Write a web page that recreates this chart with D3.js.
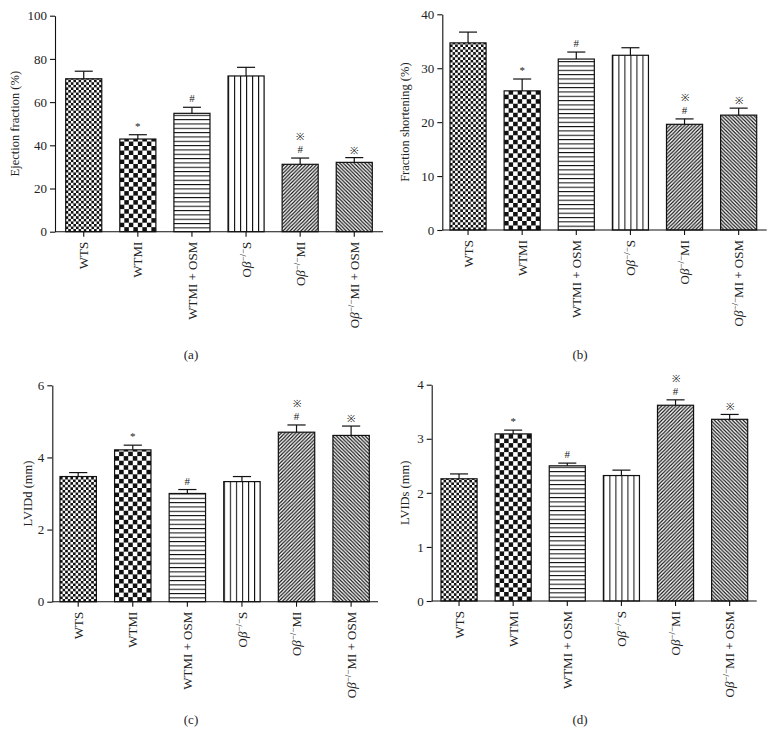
<!DOCTYPE html>
<html>
<head>
<meta charset="utf-8">
<script src="https://cdn.jsdelivr.net/npm/d3@7"></script>
<style>
html,body{margin:0;padding:0;background:#fff;}
svg{display:block;}
text{font-family:"Liberation Serif","Times New Roman",serif;fill:#222;}
</style>
</head>
<body>
<svg id="chart" width="774" height="738"></svg>
<script>
// ---------- DATA ----------
const categories = ["WTS", "WTMI", "WTMI + OSM", "Oβ−/−S", "Oβ−/−MI", "Oβ−/−MI + OSM"];

const efMean = [70.8, 42.9, 54.8, 72.1, 31.2, 32.1];
const efErr  = [3.5, 2.0, 2.8, 4.0, 2.9, 2.2];
const fsMean = [34.7, 25.8, 31.7, 32.4, 19.6, 21.3];
const fsErr  = [2.0, 2.2, 1.3, 1.4, 1.0, 1.3];
const lviddMean = [3.47, 4.21, 3.00, 3.33, 4.70, 4.61];
const lviddErr  = [0.11, 0.13, 0.11, 0.14, 0.20, 0.26];
const lvidsMean = [2.26, 3.09, 2.50, 2.32, 3.62, 3.36];
const lvidsErr  = [0.09, 0.07, 0.05, 0.10, 0.10, 0.09];

// significance marks, listed bottom to top
const efMarks    = [[], ["*"], ["#"], [], ["#", "※"], ["※"]];
const fsMarks    = [[], ["*"], ["#"], [], ["#", "※"], ["※"]];
const lviddMarks = [[], ["*"], ["#"], [], ["#", "※"], ["※"]];
const lvidsMarks = [[], ["*"], ["#"], [], ["#", "※"], ["※"]];

const efTicks    = [0, 20, 40, 60, 80, 100];
const fsTicks    = [0, 10, 20, 30, 40];
const lviddTicks = [0, 2, 4, 6];
const lvidsTicks = [0, 1, 2, 3, 4];

const yTitles  = ["Ejection fraction (%)", "Fraction shortening (%)", "LVIDd (mm)", "LVIDs (mm)"];
const captions = ["(a)", "(b)", "(c)", "(d)"];
const patternKinds = ["fineCheck", "coarseCheck", "hLines", "vLines", "diagUp", "diagDown"];

// ---------- LAYOUT ----------
const layout = [
  {x0: 55,    x1: 383,   yb: 231.7, yt: 15.7,  b0: 65.7,  b1: 372.3, titleX: 15,  capX: 191, capY: 354},
  {x0: 442.3, x1: 766.7, yb: 230,   yt: 14.3,  b0: 450,   b1: 756.7, titleX: 405, capX: 580, capY: 354},
  {x0: 52.3,  x1: 378,   yb: 601.7, yt: 385.3, b0: 60,    b1: 369.3, titleX: 28,  capX: 191, capY: 719},
  {x0: 431.7, x1: 756.7, yb: 601,   yt: 384.7, b0: 441,   b1: 747.7, titleX: 405, capX: 580, capY: 719}
];

const panels = [
  {mean: efMean, err: efErr, marks: efMarks, ticks: efTicks},
  {mean: fsMean, err: fsErr, marks: fsMarks, ticks: fsTicks},
  {mean: lviddMean, err: lviddErr, marks: lviddMarks, ticks: lviddTicks},
  {mean: lvidsMean, err: lvidsErr, marks: lvidsMarks, ticks: lvidsTicks}
];

const svg = d3.select("#chart");
svg.append("rect").attr("width", 774).attr("height", 738).attr("fill", "#fff");
const defs = svg.append("defs");
const INK = "#111";

function makePattern(id, kind, bx, bw, yb) {
  const p = defs.append("pattern").attr("id", id).attr("patternUnits", "userSpaceOnUse");
  if (kind === "fineCheck" || kind === "coarseCheck") {
    const s = kind === "fineCheck" ? bw / 14 : bw / 8;
    p.attr("x", bx).attr("y", yb).attr("width", 2 * s).attr("height", 2 * s);
    p.append("rect").attr("width", 2 * s).attr("height", 2 * s).attr("fill", "#fff");
    p.append("rect").attr("x", 0).attr("y", 0).attr("width", s).attr("height", s).attr("fill", INK);
    p.append("rect").attr("x", s).attr("y", s).attr("width", s).attr("height", s).attr("fill", INK);
  } else if (kind === "hLines") {
    const s = 4.33;
    p.attr("x", bx).attr("y", yb).attr("width", 10).attr("height", s);
    p.append("rect").attr("width", 10).attr("height", s).attr("fill", "#fff");
    p.append("line").attr("x1", 0).attr("x2", 10).attr("y1", 0.5).attr("y2", 0.5)
      .attr("stroke", INK).attr("stroke-width", 1.1);
  } else if (kind === "vLines") {
    const s = bw / 6;
    p.attr("x", bx).attr("y", 0).attr("width", s).attr("height", 10);
    p.append("rect").attr("width", s).attr("height", 10).attr("fill", "#fff");
    p.append("line").attr("x1", 0.5).attr("x2", 0.5).attr("y1", 0).attr("y2", 10)
      .attr("stroke", INK).attr("stroke-width", 1.1);
  } else {
    const s = 3.6;
    p.attr("x", bx).attr("y", yb).attr("width", s).attr("height", s);
    p.append("rect").attr("width", s).attr("height", s).attr("fill", "#fff");
    const d = kind === "diagUp"
      ? `M${-s/2},${s/2} L${s/2},${-s/2} M0,${s} L${s},0 M${s/2},${1.5*s} L${1.5*s},${s/2}`
      : `M${-s/2},${s/2} L${s/2},${1.5*s} M0,0 L${s},${s} M${s/2},${-s/2} L${1.5*s},${s/2}`;
    p.append("path").attr("d", d).attr("stroke", INK).attr("stroke-width", 1.15).attr("fill", "none");
  }
}

function writeLabel(textSel, label) {
  if (label.startsWith("Oβ")) {
    const rest = label.slice("Oβ−/−".length);
    textSel.append("tspan").text("O");
    textSel.append("tspan").attr("font-style", "italic").text("β");
    textSel.append("tspan").attr("font-size", "9px").attr("dy", -5).text("−/−");
    textSel.append("tspan").attr("dy", 5).text(rest);
  } else {
    textSel.text(label);
  }
}

panels.forEach((pd, pi) => {
  const L = layout[pi];
  const g = svg.append("g");
  const ymax = d3.max(pd.ticks);
  const y = d3.scaleLinear().domain([0, ymax]).range([L.yb, L.yt]);
  const x = d3.scaleBand().domain(categories).range([L.b0, L.b1]).paddingInner(1 / 3).paddingOuter(0);
  const bw = x.bandwidth();

  categories.forEach((c, i) => makePattern(`p${pi}_${i}`, patternKinds[i], x(c), bw, L.yb));

  // bars
  g.selectAll("rect.bar").data(categories).enter().append("rect")
    .attr("class", "bar")
    .attr("x", d => x(d))
    .attr("y", (d, i) => y(pd.mean[i]))
    .attr("width", bw)
    .attr("height", (d, i) => L.yb - y(pd.mean[i]))
    .attr("fill", (d, i) => `url(#p${pi}_${i})`)
    .attr("stroke", INK).attr("stroke-width", 1.2);

  // error bars
  categories.forEach((c, i) => {
    const cx = x(c) + bw / 2;
    const top = y(pd.mean[i] + pd.err[i]);
    g.append("line").attr("x1", cx).attr("x2", cx).attr("y1", y(pd.mean[i])).attr("y2", top)
      .attr("stroke", INK).attr("stroke-width", 1.2);
    g.append("line").attr("x1", cx - bw / 4).attr("x2", cx + bw / 4).attr("y1", top).attr("y2", top)
      .attr("stroke", INK).attr("stroke-width", 1.2);
    pd.marks[i].forEach((m, k) => {
      const t = g.append("text").attr("x", cx).attr("y", top - 5 - k * 14)
        .attr("text-anchor", "middle").attr("fill", "#333");
      if (m === "※") {
        t.attr("font-family", '"DejaVu Sans", "Noto Sans CJK JP", sans-serif')
          .attr("font-size", "10px").attr("dy", "1").text(m);
      } else {
        t.attr("font-size", "11px").text(m);
      }
    });
  });

  // y axis
  const yAxis = d3.axisLeft(y).tickValues(pd.ticks).tickSize(5).tickSizeOuter(0).tickPadding(3)
    .tickFormat(d3.format("d"));
  const ga = g.append("g").attr("transform", `translate(${L.x0},0)`).call(yAxis);
  ga.select(".domain").attr("stroke", INK).attr("stroke-width", 1.1);
  ga.selectAll(".tick line").attr("stroke", INK).attr("stroke-width", 1.1);
  ga.selectAll(".tick text").attr("font-family", '"Liberation Serif", serif').attr("font-size", "13px").attr("fill", "#222");

  // x axis
  g.append("line").attr("x1", L.x0).attr("x2", L.x1).attr("y1", L.yb).attr("y2", L.yb)
    .attr("stroke", INK).attr("stroke-width", 1.1);
  const xAxis = d3.axisBottom(x).tickSize(5).tickSizeOuter(0).tickFormat("");
  const gx = g.append("g").attr("transform", `translate(0,${L.yb})`).call(xAxis);
  gx.select(".domain").remove();
  gx.selectAll(".tick line").attr("stroke", INK).attr("stroke-width", 1.1);

  categories.forEach(c => {
    const t = g.append("text")
      .attr("transform", `translate(${x(c) + bw / 2},${L.yb + 10}) rotate(-90)`)
      .attr("text-anchor", "end").attr("dy", "0.35em").attr("font-size", "13px");
    writeLabel(t, c);
  });

  // y title
  g.append("text")
    .attr("transform", `translate(${L.titleX},${(L.yb + L.yt) / 2}) rotate(-90)`)
    .attr("text-anchor", "middle").attr("dy", "0.35em").attr("font-size", "12.5px")
    .text(yTitles[pi]);

  // caption
  g.append("text").attr("x", L.capX).attr("y", L.capY).attr("dy", "0.35em")
    .attr("text-anchor", "middle").attr("font-size", "13px").text(captions[pi]);
});
</script>
</body>
</html>
